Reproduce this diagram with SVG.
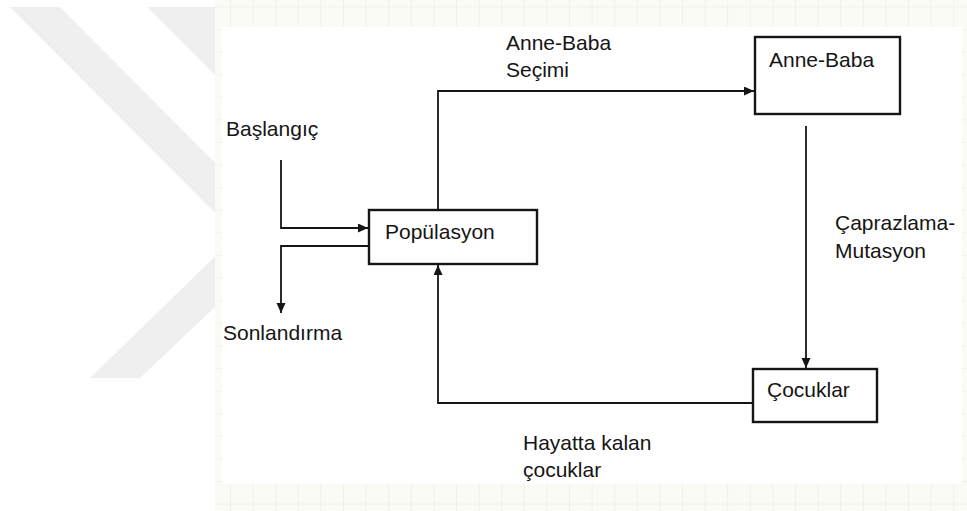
<svg xmlns="http://www.w3.org/2000/svg" width="967" height="511" viewBox="0 0 967 511">
  <style>
    .lbl { font-family: "Liberation Sans", Arial, sans-serif; font-size: 21px; fill: #151515; }
    .box { fill: #ffffff; stroke: #151515; stroke-width: 2.4; }
    .con { fill: none; stroke: #151515; stroke-width: 1.8; }
  </style>
  <defs>
    <marker id="arrow" markerUnits="userSpaceOnUse" markerWidth="11" markerHeight="10" refX="10" refY="4.5" orient="auto">
      <path d="M0,0 L10,4.5 L0,9 z" fill="#151515"/>
    </marker>
    <pattern id="grid" patternUnits="userSpaceOnUse" x="230" y="6.4" width="22.6" height="22.6">
      <path d="M0,0 V22.6 M0,0 H22.6" fill="none" stroke="#e8e8e2" stroke-width="1"/>
    </pattern>
  </defs>

  <!-- page background and watermark -->
  <rect x="0" y="0" width="967" height="511" fill="#ffffff"/>
  <g id="watermark" fill="#efefef">
    <polygon points="10,7 60,7 289,237 140,378 90,378 237,235"/>
    <polygon points="147,7 240,7 240,100"/>
  </g>

  <!-- grid paper of the embedded diagram -->
  <rect x="215" y="0" width="752" height="511" fill="#fbfbf6"/>
  <rect x="215" y="0" width="752" height="511" fill="url(#grid)"/>
  <rect x="222" y="27" width="740" height="457" fill="#ffffff"/>

  <g id="connectors">
    <path class="con" d="M281,160 V228 H368" marker-end="url(#arrow)"/>
    <path class="con" d="M369,246 H281 V313" marker-end="url(#arrow)"/>
    <path class="con" d="M438,210 V91 H754" marker-end="url(#arrow)"/>
    <path class="con" d="M806,126 V368" marker-end="url(#arrow)"/>
    <path class="con" d="M753,403 H438 V265" marker-end="url(#arrow)"/>
  </g>

  <g id="populasyon">
    <rect class="box" x="369" y="210" width="168" height="54"/>
    <text class="lbl" x="385" y="239">Popülasyon</text>
  </g>
  <g id="anne-baba">
    <rect class="box" x="755" y="37" width="145" height="77"/>
    <text class="lbl" x="769" y="67">Anne-Baba</text>
  </g>
  <g id="cocuklar">
    <rect class="box" x="753" y="369" width="124" height="53"/>
    <text class="lbl" x="767" y="397">Çocuklar</text>
  </g>

  <g id="labels">
    <text class="lbl" x="226" y="136">Başlangıç</text>
    <text class="lbl" x="223" y="340">Sonlandırma</text>
    <text class="lbl" x="506" y="50">Anne-Baba</text>
    <text class="lbl" x="506" y="77">Seçimi</text>
    <text class="lbl" x="835" y="230">Çaprazlama-</text>
    <text class="lbl" x="835" y="258">Mutasyon</text>
    <text class="lbl" x="523" y="450">Hayatta kalan</text>
    <text class="lbl" x="523" y="477">çocuklar</text>
  </g>
</svg>
